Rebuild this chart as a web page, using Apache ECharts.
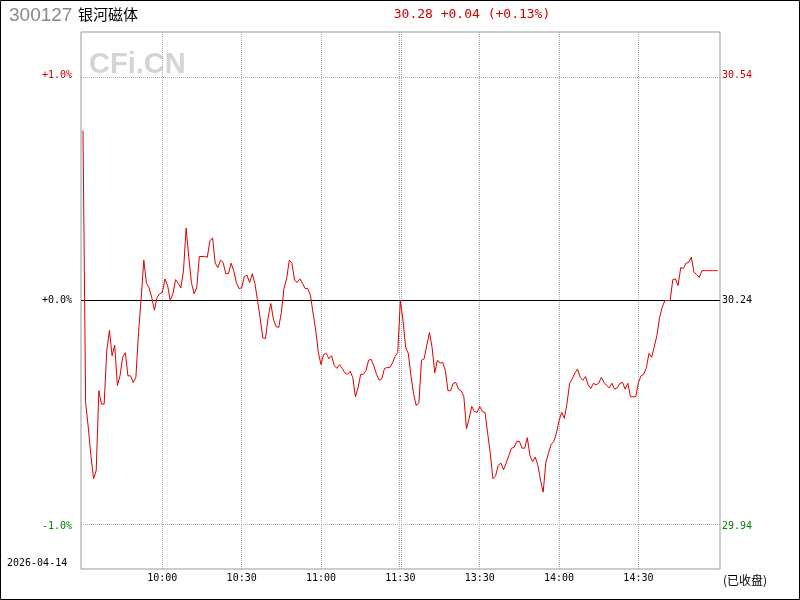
<!DOCTYPE html>
<html>
<head>
<meta charset="utf-8">
<title>300127 银河磁体 分时</title>
<script src="https://cdn.jsdelivr.net/npm/echarts@6.0.0/dist/echarts.min.js"></script>
<style>
  html, body { margin: 0; padding: 0; background: #fff; }
  #main { width: 800px; height: 600px; }
</style>
</head>
<body>
<div id="main"></div>
<script>
// 昨收 / 最新价
var prevClose = 30.24;
var lastPrice = 30.28;
var tradeDate = "2026-04-14";

// 分时价格: 09:30 起每分钟一个点, 第 120 个点是 11:30/13:00, 共 241 个
var prices = [
  30.468, 30.103, 30.070, 30.032, 30.001, 30.012, 30.119, 30.101, 30.101, 30.173,
  30.200, 30.166, 30.180, 30.126, 30.139, 30.164, 30.170, 30.139, 30.139, 30.130,
  30.137, 30.197, 30.243, 30.294, 30.263, 30.257, 30.244, 30.227, 30.244, 30.249,
  30.251, 30.269, 30.260, 30.240, 30.249, 30.268, 30.263, 30.257, 30.280, 30.337,
  30.298, 30.264, 30.249, 30.257, 30.299, 30.299, 30.299, 30.298, 30.320, 30.324,
  30.290, 30.284, 30.294, 30.291, 30.276, 30.276, 30.290, 30.280, 30.264, 30.256,
  30.257, 30.272, 30.274, 30.264, 30.276, 30.263, 30.240, 30.216, 30.190, 30.189,
  30.217, 30.236, 30.215, 30.205, 30.204, 30.224, 30.256, 30.269, 30.294, 30.290,
  30.267, 30.264, 30.269, 30.263, 30.256, 30.256, 30.247, 30.223, 30.200, 30.170,
  30.154, 30.168, 30.169, 30.162, 30.166, 30.153, 30.149, 30.154, 30.149, 30.143,
  30.141, 30.145, 30.137, 30.111, 30.123, 30.141, 30.141, 30.146, 30.160, 30.161,
  30.152, 30.141, 30.133, 30.135, 30.149, 30.150, 30.150, 30.156, 30.165, 30.170,
  30.240, 30.213, 30.177, 30.169, 30.139, 30.115, 30.099, 30.103, 30.160, 30.162,
  30.180, 30.197, 30.177, 30.143, 30.160, 30.156, 30.157, 30.146, 30.119, 30.119,
  30.129, 30.130, 30.121, 30.119, 30.111, 30.068, 30.082, 30.098, 30.091, 30.090,
  30.098, 30.091, 30.090, 30.062, 30.035, 30.001, 30.005, 30.019, 30.022, 30.013,
  30.022, 30.032, 30.042, 30.043, 30.051, 30.051, 30.042, 30.042, 30.056, 30.032,
  30.024, 30.030, 30.019, 29.999, 29.983, 30.023, 30.035, 30.047, 30.051, 30.062,
  30.079, 30.090, 30.082, 30.102, 30.129, 30.135, 30.143, 30.148, 30.137, 30.133,
  30.138, 30.127, 30.122, 30.129, 30.127, 30.129, 30.137, 30.130, 30.126, 30.123,
  30.129, 30.121, 30.123, 30.129, 30.130, 30.121, 30.129, 30.111, 30.111, 30.111,
  30.130, 30.139, 30.141, 30.150, 30.169, 30.164, 30.178, 30.193, 30.217, 30.231,
  30.240, 30.240, 30.240, 30.268, 30.269, 30.260, 30.284, 30.283, 30.290, 30.291,
  30.298, 30.278, 30.275, 30.271, 30.280, 30.280, 30.280, 30.280, 30.280, 30.280,
  30.280
];

// 时间刻度 (距 09:30 的分钟数) 和标签
var timeTicks = [30, 60, 90, 120, 150, 180, 210];
var timeLabels = ["10:00", "10:30", "11:00", "11:30", "13:30", "14:00", "14:30"];

// 涨跌幅刻度 (%)
var pctTicks = [-1, 0, 1];

var upColor = "#cc0000";
var downColor = "#008000";
var monoFont = '"DejaVu Sans Mono", "Liberation Mono", monospace';
var cjkFont = '"Noto Sans CJK SC", sans-serif';

// 纵轴范围 ±1.19%
var pctRange = 1.1905;
var priceMin = prevClose * (1 - pctRange / 100);
var priceMax = prevClose * (1 + pctRange / 100);

function tickColor(v) {
  if (Math.abs(v) < 1e-9) return "#000";
  return v > 0 ? upColor : downColor;
}

var seriesData = prices.map(function (p, i) {
  return [i, p];
});

// 竖向网格线, 11:30 处是两条
var markLines = [];
timeTicks.forEach(function (t, i) {
  if (t === 120) {
    markLines.push({ xAxis: 119.7, label: { show: false } });
    markLines.push({ xAxis: 120.4, label: { show: false } });
    // 只放标签, 线透明
    markLines.push({
      xAxis: 120,
      lineStyle: { color: "rgba(0,0,0,0)" },
      label: { formatter: timeLabels[i] },
    });
  } else {
    markLines.push({ xAxis: t, label: { formatter: timeLabels[i] } });
  }
});

// 横向线: ±1% 虚线, 昨收实线
pctTicks.forEach(function (p) {
  var item = {
    yAxis: prevClose * (1 + p / 100),
    label: { show: false },
  };
  if (p === 0) {
    item.lineStyle = { color: "#000", type: "solid", width: 1 };
  }
  markLines.push(item);
});

var change = lastPrice - prevClose;
var changePct = (change / prevClose) * 100;
var sign = change >= 0 ? "+" : "-";
var headerText =
  lastPrice.toFixed(2) + " " + sign + Math.abs(change).toFixed(2) +
  " (" + sign + Math.abs(changePct).toFixed(2) + "%)";

var chart = echarts.init(document.getElementById("main"));

var option = {
  animation: false,
  backgroundColor: "#fff",
  grid: {
    left: 81,
    right: 80,
    top: 32,
    bottom: 31,
    show: true,
    borderColor: "#999",
    borderWidth: 1,
    backgroundColor: "transparent",
  },
  xAxis: {
    type: "value",
    min: -0.75,
    max: 240.85,
    show: false,
  },
  yAxis: [
    {
      type: "value",
      position: "left",
      min: -pctRange,
      max: pctRange,
      axisLine: { show: false },
      axisTick: { show: false },
      splitLine: { show: false },
      axisLabel: {
        customValues: pctTicks,
        margin: 9,
        fontSize: 10,
        fontFamily: monoFont,
        color: function (v) {
          return tickColor(v);
        },
        formatter: function (v) {
          return (v >= 0 ? "+" : "") + v.toFixed(1) + "%";
        },
      },
    },
    {
      type: "value",
      position: "right",
      min: priceMin,
      max: priceMax,
      axisLine: { show: false },
      axisTick: { show: false },
      splitLine: { show: false },
      axisLabel: {
        customValues: pctTicks.map(function (p) {
          return prevClose * (1 + p / 100);
        }),
        margin: 2,
        fontSize: 10,
        fontFamily: monoFont,
        color: function (v) {
          return tickColor(v - prevClose);
        },
        formatter: function (v) {
          return v.toFixed(2);
        },
      },
    },
  ],
  series: [
    {
      name: "价格",
      type: "line",
      yAxisIndex: 1,
      data: seriesData,
      showSymbol: false,
      z: 3,
      lineStyle: { color: "#dd0000", width: 1 },
      emphasis: { disabled: true },
      markLine: {
        silent: true,
        z: 1,
        symbol: ["none", "none"],
        animation: false,
        lineStyle: { color: "#aaa", type: "dotted", width: 1 },
        label: {
          show: true,
          position: "start",
          distance: 4,
          color: "#000",
          fontSize: 10,
          fontFamily: monoFont,
        },
        data: markLines,
      },
    },
  ],
  graphic: [
    {
      type: "rect",
      silent: true,
      shape: { x: 0.5, y: 0.5, width: 799, height: 599 },
      style: { fill: "none", stroke: "#000", lineWidth: 1 },
    },
    {
      type: "text",
      x: 9,
      y: 16,
      style: {
        text: "300127",
        fill: "#888",
        font: '19px "Liberation Sans", Arial, sans-serif',
        textVerticalAlign: "middle",
      },
    },
    {
      type: "text",
      x: 78,
      y: 14,
      style: {
        text: "银河磁体",
        fill: "#000",
        font: "15px " + cjkFont,
        textVerticalAlign: "middle",
      },
    },
    {
      type: "text",
      x: 472,
      y: 15,
      style: {
        text: headerText,
        fill: upColor,
        font: "13px " + monoFont,
        textAlign: "center",
        textVerticalAlign: "middle",
      },
    },
    {
      type: "text",
      x: 89,
      y: 65,
      style: {
        text: "CFi.CN",
        fill: "#d4d4d4",
        font: 'bold 29px "Liberation Sans", Arial, sans-serif',
        textVerticalAlign: "middle",
      },
    },
    {
      type: "text",
      x: 7,
      y: 563,
      style: {
        text: tradeDate,
        fill: "#000",
        font: "10px " + monoFont,
        textVerticalAlign: "middle",
      },
    },
    {
      type: "text",
      x: 723,
      y: 580,
      style: {
        text: "(已收盘)",
        fill: "#000",
        font: "12px " + cjkFont,
        textVerticalAlign: "middle",
      },
    },
  ],
};

chart.setOption(option);
</script>
</body>
</html>
